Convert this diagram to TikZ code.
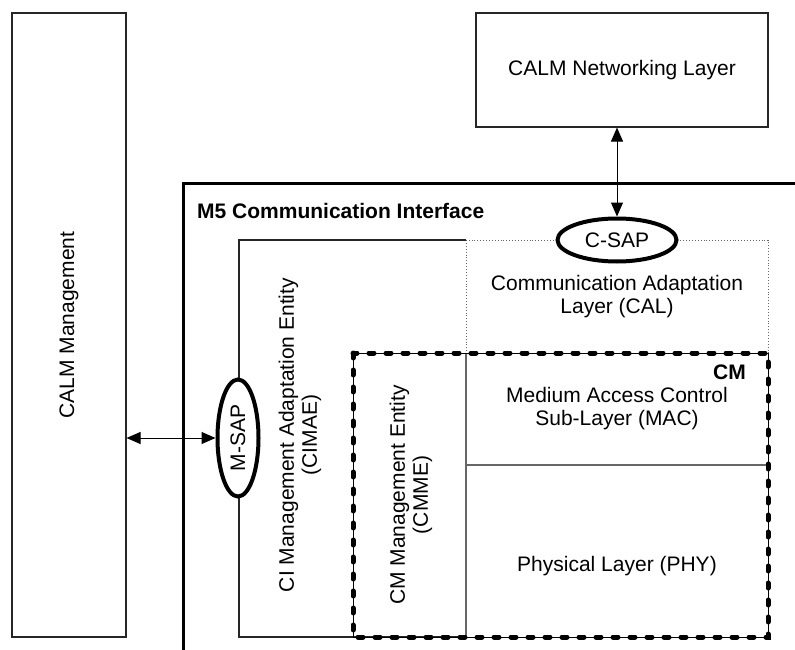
\documentclass[tikz,border=0pt]{standalone}
\usepackage{fontspec}
\setmainfont{Liberation Sans}
\usetikzlibrary{shapes.geometric,arrows.meta}
\begin{document}
\begin{tikzpicture}[x=1pt,y=-1pt,
  every node/.style={font=\fontsize{21}{23}\selectfont, inner sep=0pt},
  boldtext/.style={font=\fontsize{21}{23}\selectfont\bfseries},
  box/.style={draw=black!85, line width=1.1pt},
  sap/.style={ellipse, draw=black, line width=4pt, fill=white, inner sep=0pt},
  frame/.style={line width=3pt},
  dotline/.style={draw=black!60, line width=0.9pt, dotted},
  divider/.style={draw=black!60, line width=1.1pt},
  cmline/.style={line width=5pt, dash pattern=on 5pt off 12pt, line cap=round},
  biarrow/.style={line width=1pt, {Triangle[length=14pt,width=12pt]}-{Triangle[length=14pt,width=12pt]}},
  lbl/.style={align=center},
]
\useasboundingbox (0,0) rectangle (795,650);

% management plane and networking layer
\node[box, minimum width=114pt, minimum height=624pt] (mgmt) at (69,325) {};
\node[rotate=90] (mgmtlbl) at (mgmt) {CALM Management};
\node[box, minimum width=292pt, minimum height=114pt] (net) at (622,70) {CALM Networking Layer};

% M5 communication interface frame
\draw[frame] (795,183) -- (183,183) -- (183,650);
\node[boldtext, anchor=west] (m5) at (197,211) {M5 Communication Interface};

% CI management adaptation entity
\draw[box] (466,240) -- (239,240) -- (239,637) -- (466,637);
\node[lbl, rotate=90] (cimae) at (300,435) {CI Management Adaptation Entity\\(CIMAE)};

% communication adaptation layer
\draw[dotline] (466,240) rectangle (768,353);
\node[lbl] (cal) at (617,297) {Communication Adaptation\\Layer (CAL)};

% communication module
\draw[divider] (466,353) -- (466,637);
\draw[divider] (466,465) -- (768,465);
\draw[line width=0.8pt] (353,353) rectangle (768,637);
\draw[cmline] (353,353) rectangle (768,637);
\node[boldtext, anchor=east] (cm) at (746,372) {CM};
\node[lbl, rotate=90] (cmme) at (411,495) {CM Management Entity\\(CMME)};
\node[lbl] (mac) at (617,409) {Medium Access Control\\Sub-Layer (MAC)};
\node (phy) at (617,566) {Physical Layer (PHY)};

% service access points
\node[sap, minimum width=119pt, minimum height=43pt] (csap) at (617,240) {C-SAP};
\node[sap, rotate=90, minimum width=117pt, minimum height=41pt] (msap) at (238,438) {M-SAP};

% connectors
\draw[biarrow] (net.south -| csap) -- (csap.north);
\draw[biarrow] (mgmt.east |- msap) -- (msap.north);
\end{tikzpicture}
\end{document}
